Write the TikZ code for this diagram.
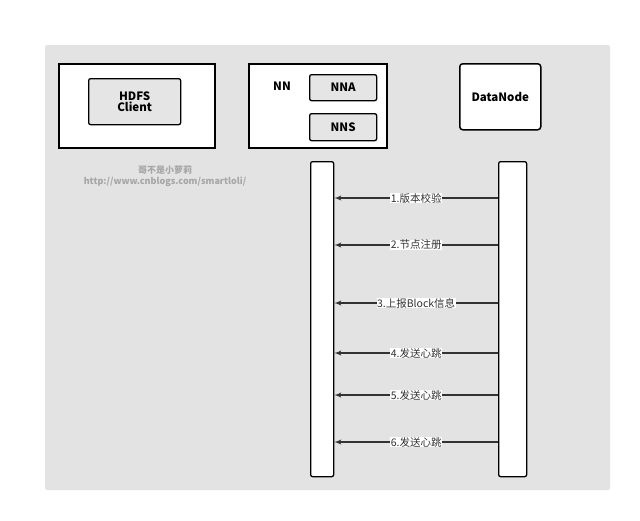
\documentclass[tikz,border=0pt]{standalone}
\usepackage{fontspec}
\setmainfont{Noto Sans CJK SC}
\usetikzlibrary{arrows}
\tikzstyle{line} = [draw, line width=1.4pt, -latex', color=black!80]
\tikzstyle{frame} = [draw, line width=1.5pt, fill=white, anchor=north west]
\tikzstyle{inner} = [draw, line width=1.3pt, rounded corners=2pt, fill=black!10, anchor=north west, font=\bfseries\fontsize{11.5}{12.5}\selectfont, align=center]
\tikzstyle{life} = [draw, line width=1.3pt, rounded corners=2pt, fill=white, anchor=north west, minimum height=315pt]
\tikzstyle{msg} = [fill=white, inner sep=0.5pt, font=\fontsize{10.5}{11}\selectfont]
\begin{document}
\begin{tikzpicture}[x=1pt, y=-1pt]
	\useasboundingbox (0,0) rectangle (640,520);
	\fill [black!11, rounded corners=2pt] (45,45) rectangle (610,490);
	
	\node [frame, minimum width=156pt, minimum height=84pt] (client) at (58,63) {};
	\node [inner, minimum width=92pt, minimum height=46pt] (hdfs) at (88,78) {HDFS\\[-2pt]Client};
	
	\node [frame, minimum width=138pt, minimum height=84pt] (nn) at (248,63) {};
	\node [font=\bfseries\fontsize{11.5}{12.5}\selectfont] (nnlabel) at (282,86) {NN};
	\node [inner, minimum width=67pt, minimum height=26pt] (nna) at (309,74) {NNA};
	\node [inner, minimum width=67pt, minimum height=27pt] (nns) at (309,113) {NNS};
	
	\node [frame, rounded corners=3pt, minimum width=81pt, minimum height=66pt, font=\bfseries\fontsize{11.5}{12.5}\selectfont] (dn) at (459,63) {DataNode};
	
	\node [text=black!35, font=\bfseries\fontsize{9}{11}\selectfont, align=center] (mark) at (165,176) {哥不是小萝莉\\http://www.cnblogs.com/smartloli/};
	
	\node [life, minimum width=23pt] (nnlife) at (310,161) {};
	\node [life, minimum width=28pt] (dnlife) at (498,161) {};
	
	\foreach \y/\txt in {198/1.版本校验, 245/2.节点注册, 303/3.上报Block信息, 353/4.发送心跳, 395/5.发送心跳, 442/6.发送心跳} {
		\path [line] (dnlife.west |- 0,\y) to node [msg] {\txt} (nnlife.east |- 0,\y);
	}
\end{tikzpicture}
\end{document}
